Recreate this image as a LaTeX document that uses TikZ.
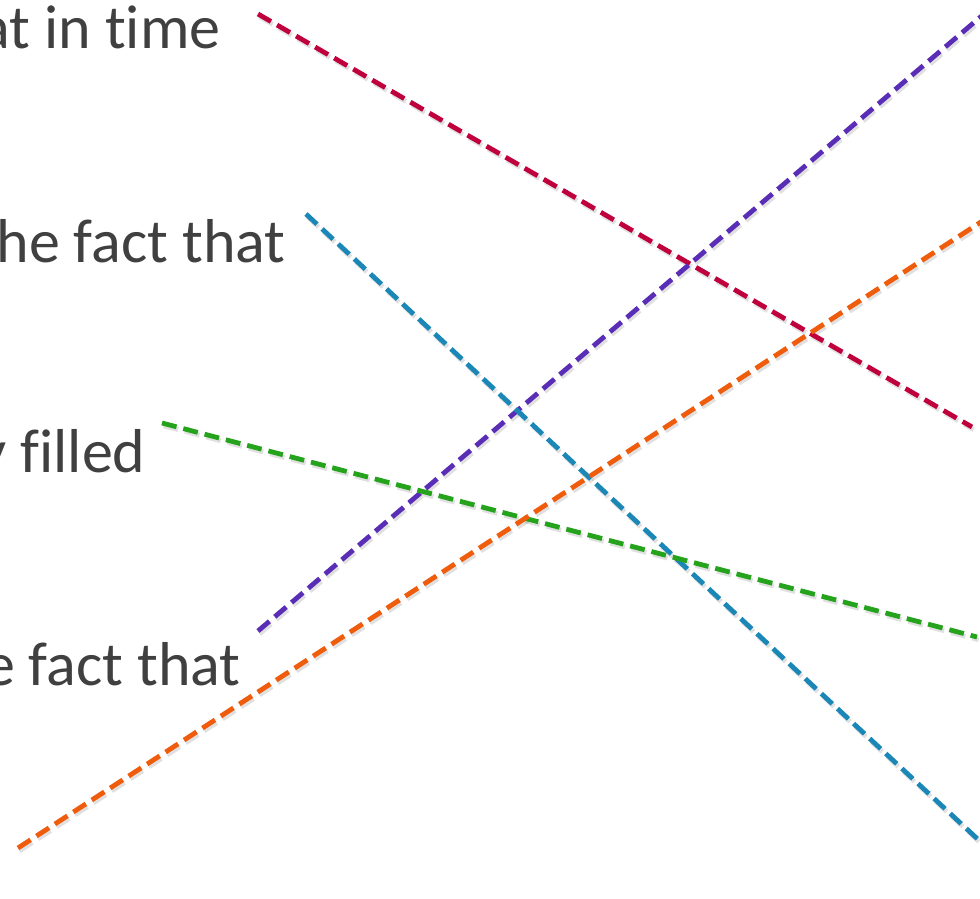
\documentclass[tikz,border=0pt]{standalone}
\usepackage{fontspec}
\setmainfont{Carlito}[Ligatures={NoCommon}]
\usetikzlibrary{positioning}
\definecolor{tgray}{HTML}{404040}
\definecolor{sberry}{HTML}{C0003C}
\definecolor{spurple}{HTML}{5A2DB6}
\definecolor{sblue}{HTML}{1A87B6}
\definecolor{sgreen}{HTML}{25A31C}
\definecolor{sorange}{HTML}{EE5C0C}

\begin{document}
\begin{tikzpicture}[
  x=0.5pt, y=-0.5pt,
  lbl/.style={anchor=base east, inner sep=0pt, text=tgray,
              font=\fontsize{31}{37}\selectfont},
  dline/.style={line width=2.4pt, dash pattern=on 7.5pt off 3.5pt},
  shade/.style={dline, draw=black, opacity=0.12,
                transform canvas={shift={(0.8pt,-1.4pt)}}},
]
  \useasboundingbox (0,0) rectangle (980,899);
  \clip (0,0) rectangle (980,899);

  % text fragments on the left
  \node[lbl] (t1) at (221,49)  {at in time};
  \node[lbl] (t2) at (286,262) {he fact that};
  \node[lbl] (t3) at (146,472) {y filled};
  \node[lbl] (t4) at (241,685) {e fact that};

  % end points of the dashed lines
  \coordinate (r0) at (258,14);  \coordinate (r1) at (972,427);
  \coordinate (p0) at (258,631); \coordinate (p1) at (984,14);
  \coordinate (b0) at (306,214); \coordinate (b1) at (984,845);
  \coordinate (g0) at (162,423); \coordinate (g1) at (977,637);
  \coordinate (o0) at (18,848);  \coordinate (o1) at (984,220);

  % soft shadows
  \foreach \a in {r,p,b,g,o}
    \draw[shade] (\a0) -- (\a1);

  \draw[dline, sberry]  (r0) -- (r1);
  \draw[dline, spurple] (p0) -- (p1);
  \draw[dline, sblue]   (b0) -- (b1);
  \draw[dline, sgreen]  (g0) -- (g1);
  \draw[dline, sorange] (o0) -- (o1);
\end{tikzpicture}
\end{document}
